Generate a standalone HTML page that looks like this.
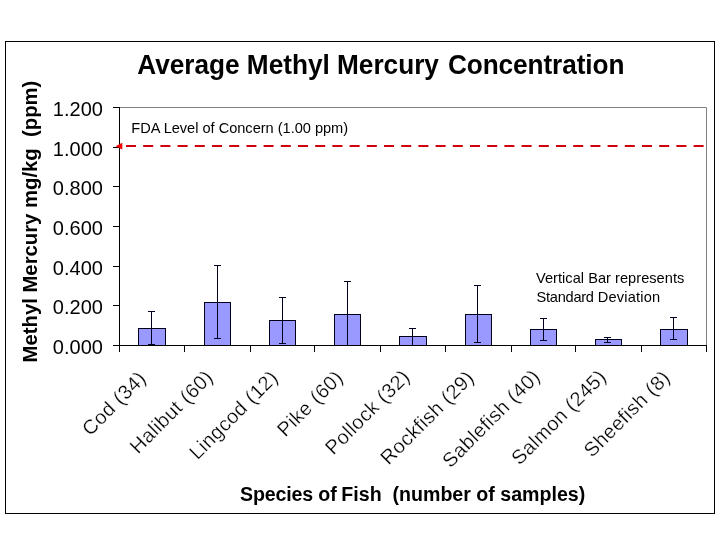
<!DOCTYPE html>
<html><head><meta charset="utf-8"><title>Average Methyl Mercury Concentration</title>
<style>
html,body{margin:0;padding:0;background:#fff;}
body{width:720px;height:540px;overflow:hidden;}
svg{display:block;}
text{font-family:"Liberation Sans",Arial,sans-serif;fill:#000;white-space:pre;}
.thin{stroke:#fff;stroke-width:0.25px;}
</style></head><body>
<svg width="720" height="540" viewBox="0 0 720 540">
<rect x="0" y="0" width="720" height="540" fill="#fff"/>
<rect x="5.5" y="41.5" width="709" height="472" fill="#fff" stroke="#000" stroke-width="1"/>

<path d="M119.5 107.5 H706.5 V345.5" fill="none" stroke="#808080" stroke-width="1"/>
<text transform="translate(137.2,73.7) scale(1,1.08)" font-size="26.2" font-weight="bold"><tspan x="0">Average Methyl Mercury </tspan><tspan x="310.73" letter-spacing="-0.08">Concentration</tspan></text>
<text transform="translate(36.9,362.4) rotate(-90)" font-size="20.3" font-weight="bold">Methyl Mercury mg/kg  (ppm)</text>
<text y="501.4" font-size="19.6" font-weight="bold"><tspan x="240" letter-spacing="-0.15">Species of </tspan><tspan x="341.35">Fish  (number of samples)</tspan></text>
<line x1="113" y1="345.5" x2="120" y2="345.5" stroke="#000" stroke-width="1"/>
<text x="102.9" y="353.5" font-size="20" text-anchor="end">0.000</text>
<line x1="113" y1="305.5" x2="120" y2="305.5" stroke="#000" stroke-width="1"/>
<text x="102.9" y="313.5" font-size="20" text-anchor="end">0.200</text>
<line x1="113" y1="266.5" x2="120" y2="266.5" stroke="#000" stroke-width="1"/>
<text x="102.9" y="274.5" font-size="20" text-anchor="end">0.400</text>
<line x1="113" y1="226.5" x2="120" y2="226.5" stroke="#000" stroke-width="1"/>
<text x="102.9" y="234.5" font-size="20" text-anchor="end">0.600</text>
<line x1="113" y1="186.5" x2="120" y2="186.5" stroke="#000" stroke-width="1"/>
<text x="102.9" y="194.5" font-size="20" text-anchor="end">0.800</text>
<line x1="113" y1="147.5" x2="120" y2="147.5" stroke="#000" stroke-width="1"/>
<text x="102.9" y="155.5" font-size="20" text-anchor="end">1.000</text>
<line x1="113" y1="107.5" x2="120" y2="107.5" stroke="#000" stroke-width="1"/>
<text x="102.9" y="115.5" font-size="20" text-anchor="end">1.200</text>
<rect x="138.5" y="328.5" width="27" height="17" fill="#9999FF" stroke="#000018" stroke-width="1"/>
<path d="M151.5 311.5 V344.5 M148 311.5 H155 M148 344.5 H155" stroke="#000020" stroke-width="1" fill="none"/>
<rect x="204.5" y="302.5" width="26" height="43" fill="#9999FF" stroke="#000018" stroke-width="1"/>
<path d="M217.5 265.5 V338.5 M214 265.5 H221 M214 338.5 H221" stroke="#000020" stroke-width="1" fill="none"/>
<rect x="269.5" y="320.5" width="26" height="25" fill="#9999FF" stroke="#000018" stroke-width="1"/>
<path d="M282.5 297.5 V343.5 M279 297.5 H286 M279 343.5 H286" stroke="#000020" stroke-width="1" fill="none"/>
<rect x="334.5" y="314.5" width="26" height="31" fill="#9999FF" stroke="#000018" stroke-width="1"/>
<path d="M347.5 281.5 V345.5 M344 281.5 H351 M344 345.5 H351" stroke="#000020" stroke-width="1" fill="none"/>
<rect x="399.5" y="336.5" width="27" height="9" fill="#9999FF" stroke="#000018" stroke-width="1"/>
<path d="M412.5 328.5 V345.5 M409 328.5 H416 M409 345.5 H416" stroke="#000020" stroke-width="1" fill="none"/>
<rect x="465.5" y="314.5" width="26" height="31" fill="#9999FF" stroke="#000018" stroke-width="1"/>
<path d="M477.5 285.5 V342.5 M474 285.5 H481 M474 342.5 H481" stroke="#000020" stroke-width="1" fill="none"/>
<rect x="530.5" y="329.5" width="26" height="16" fill="#9999FF" stroke="#000018" stroke-width="1"/>
<path d="M543.5 318.5 V340.5 M540 318.5 H547 M540 340.5 H547" stroke="#000020" stroke-width="1" fill="none"/>
<rect x="595.5" y="339.5" width="26" height="6" fill="#9999FF" stroke="#000018" stroke-width="1"/>
<path d="M607.5 337.5 V342.5 M604 337.5 H611 M604 342.5 H611" stroke="#000020" stroke-width="1" fill="none"/>
<rect x="660.5" y="329.5" width="27" height="16" fill="#9999FF" stroke="#000018" stroke-width="1"/>
<path d="M673.5 317.5 V339.5 M670 317.5 H677 M670 339.5 H677" stroke="#000020" stroke-width="1" fill="none"/>
<line x1="119.5" y1="107" x2="119.5" y2="352" stroke="#000" stroke-width="1"/>
<line x1="119" y1="345.5" x2="707" y2="345.5" stroke="#000" stroke-width="1"/>
<line x1="184.5" y1="345" x2="184.5" y2="352" stroke="#000" stroke-width="1"/>
<line x1="250.5" y1="345" x2="250.5" y2="352" stroke="#000" stroke-width="1"/>
<line x1="314.5" y1="345" x2="314.5" y2="352" stroke="#000" stroke-width="1"/>
<line x1="380.5" y1="345" x2="380.5" y2="352" stroke="#000" stroke-width="1"/>
<line x1="445.5" y1="345" x2="445.5" y2="352" stroke="#000" stroke-width="1"/>
<line x1="511.5" y1="345" x2="511.5" y2="352" stroke="#000" stroke-width="1"/>
<line x1="575.5" y1="345" x2="575.5" y2="352" stroke="#000" stroke-width="1"/>
<line x1="641.5" y1="345" x2="641.5" y2="352" stroke="#000" stroke-width="1"/>
<line x1="706.5" y1="345" x2="706.5" y2="352" stroke="#000" stroke-width="1"/>
<text transform="translate(147.3,379.6) rotate(-45)" font-size="20" letter-spacing="0.36" text-anchor="end" class="thin">Cod (34)</text>
<text transform="translate(214.1,378.5) rotate(-45)" font-size="20" letter-spacing="0.36" text-anchor="end" class="thin">Halibut (60)</text>
<text transform="translate(279.1,378.9) rotate(-45)" font-size="20" letter-spacing="0.36" text-anchor="end" class="thin">Lingcod (12)</text>
<text transform="translate(344.1,378.9) rotate(-45)" font-size="20" letter-spacing="0.36" text-anchor="end" class="thin">Pike (60)</text>
<text transform="translate(411.0,378.1) rotate(-45)" font-size="20" letter-spacing="0.36" text-anchor="end" class="thin">Pollock (32)</text>
<text transform="translate(475.2,379.1) rotate(-45)" font-size="20" letter-spacing="0.36" text-anchor="end" class="thin">Rockfish (29)</text>
<text transform="translate(541.3,377.8) rotate(-45)" font-size="20" letter-spacing="0.36" text-anchor="end" class="thin">Sablefish (40)</text>
<text transform="translate(607.4,378.1) rotate(-45)" font-size="20" letter-spacing="0.36" text-anchor="end" class="thin">Salmon (245)</text>
<text transform="translate(671.3,378.9) rotate(-45)" font-size="20" letter-spacing="0.36" text-anchor="end" class="thin">Sheefish (8)</text>
<line x1="126" y1="146" x2="706" y2="146" stroke="#d0000c" stroke-width="2.2" stroke-dasharray="10 7.2"/>
<path d="M115.5 146.2 L122.3 142.8 L122.3 149.6 Z" fill="#f00000"/>
<text x="131.3" y="132.6" font-size="14.6" letter-spacing="-0.02">FDA Level of Concern (1.00 ppm)</text>
<text x="536" y="282.9" font-size="14.6" letter-spacing="0.03">Vertical Bar represents</text>
<text y="301.7" font-size="14.6"><tspan x="536.5" letter-spacing="-0.25">Standard </tspan><tspan x="597.8" letter-spacing="0.2">Deviation</tspan></text>
</svg>
</body></html>
